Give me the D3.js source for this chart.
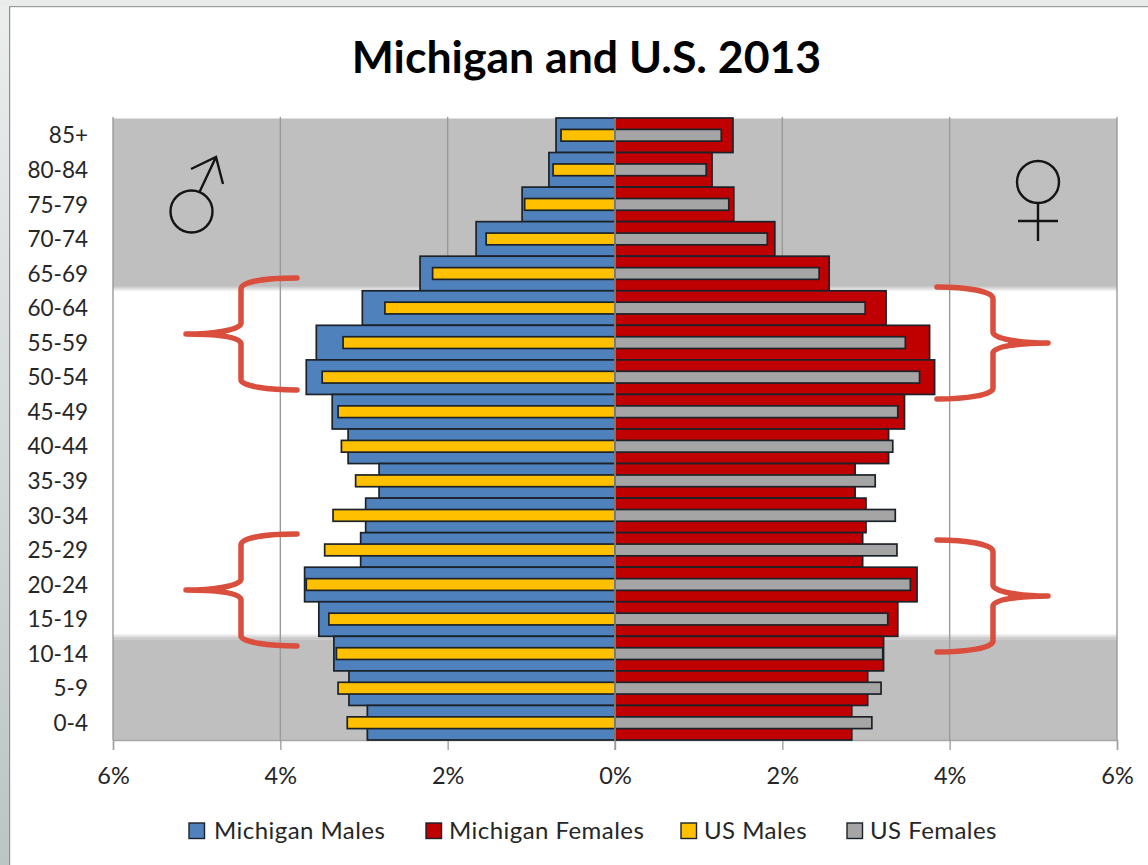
<!DOCTYPE html>
<html><head><meta charset="utf-8">
<script src="https://cdnjs.cloudflare.com/ajax/libs/d3/7.8.5/d3.min.js"></script>
<style>
html,body{margin:0;padding:0;background:#fff;overflow:hidden}
svg{display:block}
text{font-family:Lato,"Open Sans",sans-serif;fill:#262626}
</style></head><body>
<svg id="c" width="1148" height="865"></svg>
<script>
const ageGroups=["85+","80-84","75-79","70-74","65-69","60-64","55-59","50-54","45-49","40-44","35-39","30-34","25-29","20-24","15-19","10-14","5-9","0-4"];
const michiganMales=[0.705,0.79,1.11,1.66,2.33,3.02,3.57,3.69,3.38,3.19,2.82,2.98,3.04,3.71,3.54,3.36,3.18,2.96];
const michiganFemales=[1.41,1.16,1.42,1.91,2.56,3.24,3.76,3.82,3.46,3.27,2.87,3.0,2.96,3.61,3.38,3.21,3.02,2.83];
const usMales=[0.645,0.74,1.08,1.54,2.18,2.75,3.25,3.5,3.31,3.27,3.1,3.37,3.47,3.69,3.42,3.33,3.31,3.2];
const usFemales=[1.27,1.09,1.36,1.82,2.44,2.99,3.47,3.64,3.38,3.32,3.11,3.35,3.37,3.53,3.26,3.2,3.18,3.07];
const tickValues=[-6,-4,-2,0,2,4,6];
const seriesNames=["Michigan Males","Michigan Females","US Males","US Females"];
const seriesColors=["#4f81bd","#c00000","#ffc000","#a5a5a5"];

const svg=d3.select("#c");
const x=d3.scaleLinear().domain([-6,6]).range([113,1117]);
const y=d3.scaleBand().domain(ageGroups).range([118,740]).padding(0);
const bw=y.bandwidth();
const defs=svg.append("defs");

// window frame
const fg=defs.append("linearGradient").attr("id","strip").attr("x1",0).attr("x2",0).attr("y1",0).attr("y2",1);
fg.append("stop").attr("offset",0).attr("stop-color","#eceeee");
fg.append("stop").attr("offset",1).attr("stop-color","#bcc4c4");
svg.append("rect").attr("x",0).attr("y",0).attr("width",9).attr("height",865).attr("fill","url(#strip)");
svg.append("rect").attr("x",0).attr("y",0).attr("width",1148).attr("height",6).attr("fill","#e9ebeb");
svg.append("rect").attr("x",9).attr("y",6).attr("width",1.2).attr("height",859).attr("fill","#8f8f8f");
svg.append("rect").attr("x",9).attr("y",6).attr("width",1139).attr("height",1.2).attr("fill","#9a9a9a");

// shaded bands behind the working-age ranges
const bandGray="#bfbfbf";
const softDown=defs.append("linearGradient").attr("id","softDown").attr("x1",0).attr("x2",0).attr("y1",0).attr("y2",1);
softDown.append("stop").attr("offset",0).attr("stop-color",bandGray);
softDown.append("stop").attr("offset",1).attr("stop-color","#fff");
const softUp=defs.append("linearGradient").attr("id","softUp").attr("x1",0).attr("x2",0).attr("y1",0).attr("y2",1);
softUp.append("stop").attr("offset",0).attr("stop-color","#fff");
softUp.append("stop").attr("offset",1).attr("stop-color",bandGray);
const bandTopEnd=y("60-64")-2;
const bandBotStart=y("10-14");
const pw=x(6)-x(-6);
svg.append("rect").attr("x",x(-6)).attr("y",y.range()[0]+0.5).attr("width",pw).attr("height",bandTopEnd-3-y.range()[0]).attr("fill",bandGray);
svg.append("rect").attr("x",x(-6)).attr("y",bandTopEnd-3).attr("width",pw).attr("height",6).attr("fill","url(#softDown)");
svg.append("rect").attr("x",x(-6)).attr("y",bandBotStart-3).attr("width",pw).attr("height",6).attr("fill","url(#softUp)");
svg.append("rect").attr("x",x(-6)).attr("y",bandBotStart+3).attr("width",pw).attr("height",y.range()[1]-bandBotStart-3).attr("fill",bandGray);

// x axis + grid
const gx=svg.append("g").attr("transform",`translate(0,${y.range()[1]})`)
 .call(d3.axisBottom(x).tickValues(tickValues).tickFormat(d=>Math.abs(d)+"%").tickSize(10).tickPadding(17));
gx.select(".domain").attr("stroke","#a6a6a6").attr("stroke-width",1.4);
gx.selectAll(".tick line").attr("stroke","#a0a0a0").attr("stroke-width",1.4);
gx.selectAll("text").style("font-size","23.5px").attr("fill","#262626");
svg.append("g").selectAll("line").data(tickValues).join("line")
 .attr("x1",d=>x(d)).attr("x2",d=>x(d)).attr("y1",y.range()[0]-1).attr("y2",y.range()[1])
 .attr("stroke","#9a9a9a").attr("stroke-width",1.4);

// y axis labels
const gy=svg.append("g").attr("transform",`translate(${x(-6)},1)`)
 .call(d3.axisLeft(y).tickSize(0).tickPadding(25));
gy.select(".domain").remove();
gy.selectAll("text").style("font-size","22.5px").attr("fill","#262626");

// bars
function bars(vals,side,color,hFrac){
  const h=bw*hFrac;
  svg.append("g").selectAll("rect").data(ageGroups).join("rect")
   .attr("x",(d,i)=>side<0?x(-vals[i]):x(0))
   .attr("width",(d,i)=>Math.abs(x(vals[i])-x(0)))
   .attr("y",d=>y(d)+(bw-h)/2).attr("height",h)
   .attr("fill",color).attr("stroke","#1c2228").attr("stroke-width",1.7);
}
bars(michiganMales,-1,seriesColors[0],1);
bars(michiganFemales,1,seriesColors[1],1);
bars(usMales,-1,seriesColors[2],0.34);
bars(usFemales,1,seriesColors[3],0.34);
svg.append("line").attr("x1",x(0)).attr("x2",x(0)).attr("y1",y.range()[0]).attr("y2",y.range()[1]+10)
 .attr("stroke","#9a9a9a").attr("stroke-width",1.4);

// title
svg.append("text").attr("x",586.5).attr("y",73).attr("text-anchor","middle")
 .style("font-size","44.6px").style("font-weight","700").style("fill","#000").text("Michigan and U.S. 2013");

// gender symbols
const ink="#141414";
const sym=svg.append("g").attr("fill","none").attr("stroke",ink).attr("stroke-width",2.4);
sym.append("circle").attr("cx",191.5).attr("cy",211.5).attr("r",21);
sym.append("path").attr("d","M199.5,192L216,157M191,169L216,157L223,184");
sym.append("circle").attr("cx",1038).attr("cy",182).attr("r",21);
sym.append("path").attr("d","M1038,203V241M1018,221H1058");

// hand-drawn braces
const brace="#d94e3d";
function leftBrace(dy){return `M297,${278+dy}C268,${278+dy} 241,${281+dy} 241,${289+dy}V${323+dy}C241,${330+dy} 212,${334+dy} 186,${334+dy}C212,${334+dy} 241,${336+dy} 241,${344+dy}V${380+dy}C241,${386+dy} 268,${390+dy} 297,${390+dy}`;}
function rightBrace(dy){return `M937,${287+dy}C966,${287+dy} 993,${291+dy} 993,${299+dy}V${332+dy}C993,${339+dy} 1022,${343+dy} 1048,${343+dy}C1022,${343+dy} 993,${346+dy} 993,${353+dy}V${388+dy}C993,${395+dy} 966,${399+dy} 937,${399+dy}`;}
function leftTip(dy){return `M226,${330.5+dy}L190,${334+dy}L226,${337.5+dy}Z`;}
function rightTip(dy){return `M1008,${339.5+dy}L1044,${343+dy}L1008,${346.5+dy}Z`;}
svg.append("g").attr("fill","none").attr("stroke",brace).attr("stroke-width",5.5).attr("stroke-linecap","round").attr("stroke-linejoin","round")
 .selectAll("path").data([leftBrace(0),leftBrace(256),rightBrace(0),rightBrace(253)]).join("path").attr("d",d=>d);
svg.append("g").attr("fill",brace)
 .selectAll("path").data([leftTip(0),leftTip(256),rightTip(0),rightTip(253)]).join("path").attr("d",d=>d);

// legend
const legendX=[189,426,681,847];
const lg=svg.append("g").selectAll("g").data(seriesNames).join("g").attr("transform",(d,i)=>`translate(${legendX[i]},823)`);
lg.append("rect").attr("width",15.5).attr("height",15.5).attr("fill",(d,i)=>seriesColors[i]).attr("stroke","#1c2228").attr("stroke-width",1.4);
lg.append("text").attr("x",(d,i)=>i===0?25:23).attr("y",16).style("font-size","24px").style("letter-spacing","0.45px").text(d=>d);
</script>
</body></html>
